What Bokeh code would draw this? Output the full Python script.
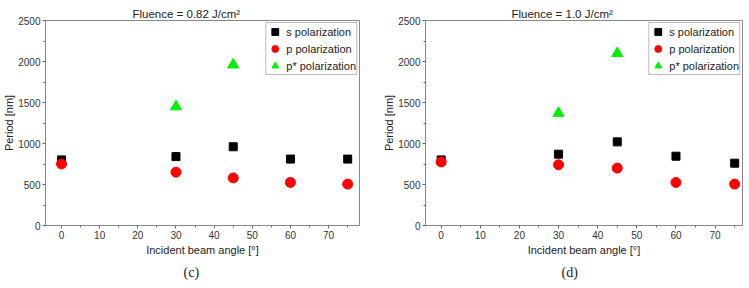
from bokeh.plotting import figure
from bokeh.layouts import row
from bokeh.models import Range1d, FixedTicker, Title, Legend, LegendItem
from bokeh.embed import file_html
from bokeh.resources import INLINE

angles_s = [0, 30, 45, 60, 75]
angles_p = [0, 30, 45, 60, 75]
angles_pstar = [30, 45]

c_s = [800, 840, 960, 810, 810]
c_p = [750, 650, 580, 525, 505]
c_pstar = [1450, 1960]

d_s = [800, 870, 1020, 845, 760]
d_p = [775, 740, 700, 525, 505]
d_pstar = [1370, 2100]

titles = ["Fluence = 0.82 J/cm\u00b2", "Fluence = 1.0 J/cm\u00b2"]
captions = ["(c)", "(d)"]
x_ticks = [0, 10, 20, 30, 40, 50, 60, 70]
y_ticks = [0, 500, 1000, 1500, 2000, 2500]

FONT = "Liberation Sans"


def make(s, p, pstar, title, caption, width, left, right, xr, title_off, cap_off):
    fig = figure(width=width, height=288, output_backend="svg", toolbar_location=None,
                 x_range=Range1d(*xr), y_range=Range1d(0, 2500),
                 min_border_left=left, min_border_right=right,
                 min_border_top=20, min_border_bottom=63)
    fig.title.text = title
    fig.title.align = "left"
    fig.title.offset = title_off
    fig.title.text_font = FONT
    fig.title.text_font_size = "11.5px"
    fig.title.text_font_style = "normal"
    fig.title.text_color = "#222222"
    fig.title.standoff = 1
    fig.grid.visible = False
    fig.outline_line_color = "#888888"
    fig.outline_line_width = 1
    for ax in (fig.xaxis[0], fig.yaxis[0]):
        ax.axis_line_color = "#888888"
        ax.major_tick_line_color = "#666666"
        ax.minor_tick_line_color = "#666666"
        ax.major_tick_in = 0
        ax.major_tick_out = 3
        ax.minor_tick_in = 0
        ax.minor_tick_out = 2
        ax.major_label_text_font = FONT
        ax.major_label_text_font_size = "10px"
        ax.major_label_text_color = "#333333"
        ax.axis_label_text_font = FONT
        ax.axis_label_text_font_size = "11px"
        ax.axis_label_text_font_style = "normal"
        ax.axis_label_text_color = "#222222"
        ax.major_label_standoff = 2
    fig.xaxis.ticker = FixedTicker(ticks=x_ticks, minor_ticks=[v + 5 for v in range(-10, 80, 10)])
    fig.yaxis.ticker = FixedTicker(ticks=y_ticks, minor_ticks=[v + 250 for v in range(0, 2500, 500)])
    fig.xaxis.axis_label = "Incident beam angle [\u00b0]"
    fig.yaxis.axis_label = "Period [nm]"
    fig.xaxis.axis_label_standoff = 2
    fig.yaxis.axis_label_standoff = 0

    r_s = fig.scatter(angles_s, s, marker="square", size=8, color="black")
    r_p = fig.scatter(angles_p, p, marker="circle", size=10, color="#ff0000")
    r_ps = fig.scatter(angles_pstar, pstar, marker="triangle", size=11, color="#00f000")

    leg = Legend(items=[LegendItem(label="s polarization", renderers=[r_s]),
                        LegendItem(label="p polarization", renderers=[r_p]),
                        LegendItem(label="p* polarization", renderers=[r_ps])],
                 location="top_right")
    leg.label_text_font = FONT
    leg.label_text_font_size = "11px"
    leg.label_text_color = "#222222"
    leg.label_height = 13
    leg.glyph_height = 17
    leg.glyph_width = 17
    leg.spacing = -3
    leg.padding = 0
    leg.margin = 2
    leg.label_standoff = 3
    leg.border_line_color = "#777777"
    leg.background_fill_alpha = 1
    fig.add_layout(leg, "center")

    cap = Title(text=caption, align="left", offset=cap_off, text_font="Liberation Serif",
                text_font_size="14px", text_font_style="normal", text_color="#222222",
                standoff=8)
    fig.add_layout(cap, "below")
    return fig


left = make(c_s, c_p, c_pstar, titles[0], captions[0], 375, 42, 16, (-4.2, 78.1), 87, 138)
right = make(d_s, d_p, d_pstar, titles[1], captions[1], 374, 50, 7, (-4.0, 77.0), 86, 136)

layout = row(left, right)
open("out.html", "w").write(file_html(layout, INLINE))
